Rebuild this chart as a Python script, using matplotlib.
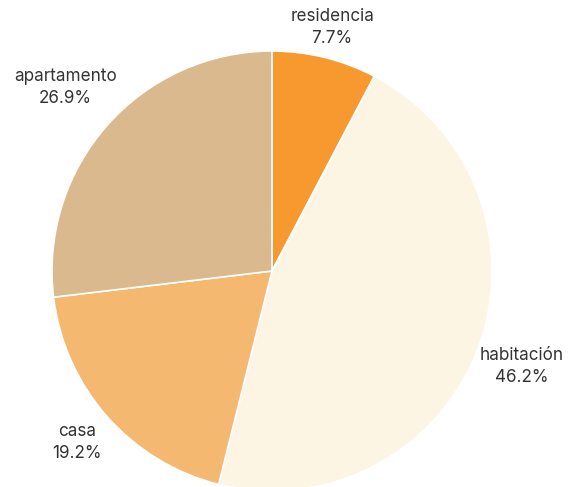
import numpy as np
import matplotlib
matplotlib.use("Agg")
import matplotlib.pyplot as plt

labels = ["residencia", "habitación", "casa", "apartamento"]
values = [7.7, 46.2, 19.2, 26.9]
colors = ["#F7992E", "#FDF5E4", "#F4B870", "#D9B98D"]
label_radius = [1.14, 1.215, 1.18, 1.255]

plt.rcParams['font.family'] = ['Inter', 'DejaVu Sans']

fig = plt.figure(figsize=(5.72, 4.87), dpi=100)
ax = fig.add_axes([0, 0, 1, 1])
wedges, _ = ax.pie(values, colors=colors, startangle=90, counterclock=False,
                   radius=1, center=(0, 0),
                   wedgeprops=dict(edgecolor="white", linewidth=1.2))

# label positions from wedge mid angles
total = sum(values)
cum = np.cumsum([0] + values[:-1])
for lab, v, c, r in zip(labels, values, cum, label_radius):
    ang = np.deg2rad(90 - (c + v / 2) / total * 360)
    ax.text(r * np.cos(ang), r * np.sin(ang), "%s\n%.1f%%" % (lab, v / total * 100),
            ha="center", va="center", fontsize=12.3, color="#333333", linespacing=1.4)

ax.set_xlim(-272 / 220, 300 / 220)
ax.set_ylim(-216 / 220, 271 / 220)
ax.set_aspect("equal")
ax.axis("off")
fig.savefig("out.png", dpi=100)
